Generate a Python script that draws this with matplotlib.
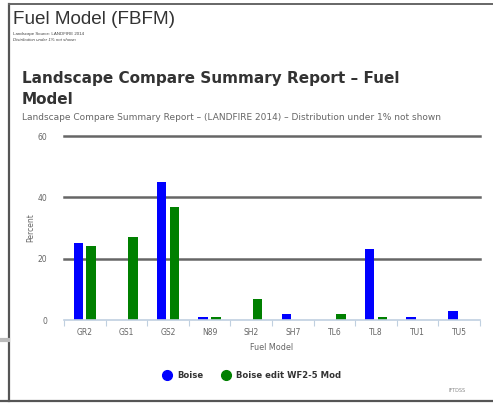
import numpy as np
import matplotlib
matplotlib.use("Agg")
import matplotlib.pyplot as plt
from matplotlib.lines import Line2D

categories = ["GR2", "GS1", "GS2", "N89", "SH2", "SH7", "TL6", "TL8", "TU1", "TU5"]
boise = [25, 0, 45, 1, 0, 2, 0, 23, 1, 3]
boise_edit = [24, 27, 37, 1, 7, 0, 2, 1, 0, 0]
series_names = ["Boise", "Boise edit WF2-5 Mod"]
yticks = [0, 20, 40, 60]

W, H = 493, 403
fig = plt.figure(figsize=(W / 100, H / 100), dpi=100)
fig.patch.set_facecolor("white")

def fx(px):
    return px / W

def fy(py):
    return 1 - py / H

# card border
fig.add_artist(Line2D([fx(8.5), fx(8.5)], [fy(4), fy(401)], color="#555555", lw=1.6))
fig.add_artist(Line2D([fx(8.5), fx(493)], [fy(4), fy(4)], color="#666666", lw=1.4))
fig.add_artist(Line2D([fx(0), fx(493)], [fy(401), fy(401)], color="#555555", lw=1.6))
fig.add_artist(Line2D([fx(0), fx(8)], [fy(340), fy(340)], color="#BBBBBB", lw=3))

# header text
fig.text(fx(13), fy(19), "Fuel Model (FBFM)", family="Liberation Sans", fontsize=13.6,
         color="#333333", va="center", ha="left")
fig.text(fx(13), fy(34), "Landscape Source: LANDFIRE 2014", family="Liberation Sans",
         fontsize=3.2, color="#444444", va="center")
fig.text(fx(13), fy(40), "Distribution under 1% not shown", family="Liberation Sans",
         fontsize=3.2, style="italic", color="#444444", va="center")

fig.text(fx(22), fy(78), "Landscape Compare Summary Report \u2013 Fuel", family="DejaVu Sans",
         fontsize=11, weight="bold", color="#333333", va="center")
fig.text(fx(22), fy(99), "Model", family="DejaVu Sans",
         fontsize=11, weight="bold", color="#333333", va="center")
fig.text(fx(22), fy(118),
         "Landscape Compare Summary Report \u2013 (LANDFIRE 2014) \u2013 Distribution under 1% not shown",
         family="DejaVu Sans", fontsize=6.5, color="#666666", va="center")

ax = fig.add_axes([fx(64), fy(320), fx(480) - fx(64), fy(136) - fy(320)])
x = np.arange(len(categories))
bw = 0.23
ax.bar(x - 0.155, boise, width=bw, color="#0000FF", zorder=3)
ax.bar(x + 0.155, boise_edit, width=bw, color="#008000", zorder=3)

ax.set_xlim(-0.5, len(categories) - 0.5)
ax.set_ylim(0, 60)
ax.set_yticks(yticks)
ax.set_yticklabels([str(v) for v in yticks], family="DejaVu Sans", fontsize=5.5, color="#666666")
ax.tick_params(axis="y", length=0, pad=12)
ax.yaxis.grid(True, color="#666666", lw=1.8, zorder=1)
ax.set_axisbelow(True)
for gl in ax.get_ygridlines():
    gl.set_clip_on(False)
ax.get_ygridlines()[0].set_visible(False)

ax.set_xticks(x)
ax.set_xticklabels(categories, family="DejaVu Sans", fontsize=5.5, color="#666666")
ax.set_xticks(np.arange(-0.5, len(categories), 1), minor=True)
ax.tick_params(axis="x", which="major", length=0, pad=6)
ax.tick_params(axis="x", which="minor", length=4, color="#C0D0E0", width=0.8)

for s in ["top", "right", "left"]:
    ax.spines[s].set_visible(False)
ax.spines["bottom"].set_color("#C0D0E0")
ax.spines["bottom"].set_linewidth(1.2)
ax.spines["bottom"].set_zorder(4)

ax.set_ylabel("Percent", family="DejaVu Sans", fontsize=5.5, color="#666666", labelpad=1.5)
ax.set_xlabel("Fuel Model", family="DejaVu Sans", fontsize=5.8, color="#666666", labelpad=4)

handles = [Line2D([], [], marker="o", ls="", color=c, markersize=7) for c in ["#0000FF", "#008000"]]
leg = fig.legend(handles, series_names, loc="center", bbox_to_anchor=(fx(250), fy(375)), ncol=2,
                 frameon=False, handletextpad=0.2, columnspacing=1.7,
                 prop={"family": "DejaVu Sans", "weight": "bold", "size": 6.1})
for t in leg.get_texts():
    t.set_color("#333333")

fig.text(fx(466), fy(390), "IFTDSS", family="DejaVu Sans", fontsize=3.5, color="#888888",
         ha="right", va="center")

fig.savefig("out.png", dpi=100)
